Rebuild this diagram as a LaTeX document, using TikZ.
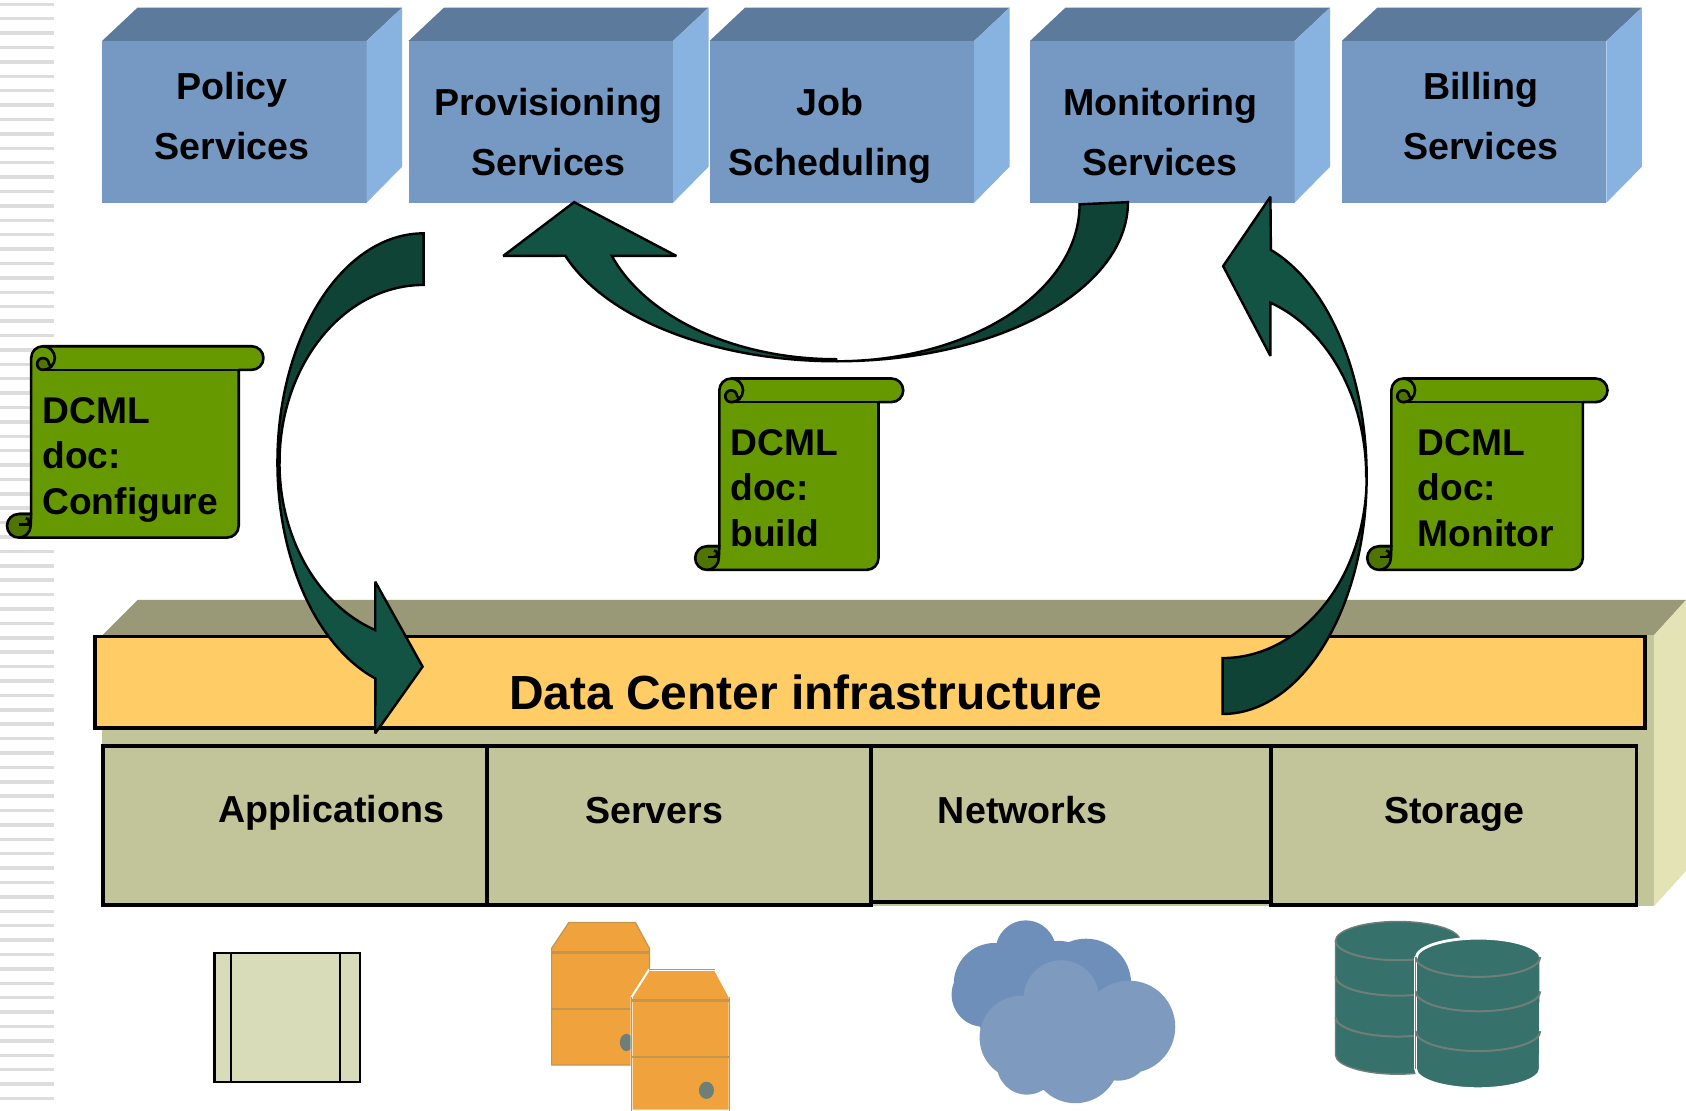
\documentclass[tikz,border=0pt]{standalone}
\usepackage{fontspec}
\setmainfont{Liberation Sans}
\definecolor{frontblue}{HTML}{7599C3}
\definecolor{topblue}{HTML}{5C7A9C}
\definecolor{sideblue}{HTML}{88B2E0}
\definecolor{stripegray}{HTML}{DDDDDD}
\definecolor{plinthtop}{HTML}{999977}
\definecolor{plinthfront}{HTML}{C2C49A}
\definecolor{plinthside}{HTML}{E3E3B5}
\definecolor{barorange}{HTML}{FFCC66}
\definecolor{arrowdark}{HTML}{0F4335}
\definecolor{arrowlight}{HTML}{135343}
\definecolor{scrollgreen}{HTML}{669900}
\definecolor{scrolldark}{HTML}{4D7500}
\definecolor{slab}{HTML}{D9DCB8}
\definecolor{serverorange}{HTML}{F0A23C}
\definecolor{serveredge}{HTML}{C39650}
\definecolor{clouddark}{HTML}{6D8FBA}
\definecolor{cloudlight}{HTML}{7F9ABF}
\definecolor{cylfill}{HTML}{37716B}
\definecolor{cylline}{HTML}{6F7F78}
\tikzset{
  label18/.style={font=\bfseries\fontsize{18.8}{30}\selectfont,align=center,text=black,inner sep=0pt},
  celltext/.style={font=\bfseries\fontsize{18.8}{22}\selectfont,text=black,inner sep=0pt},
  doctext/.style={font=\bfseries\fontsize{18.6}{22.8}\selectfont,align=left,anchor=west,text=black,inner sep=0pt},
  cellbox/.style={draw=black,line width=1.9pt,fill=plinthfront},
  blockarrow/.style={draw=black,line width=1.2pt,line join=miter,miter limit=3},
  scrollline/.style={draw=black,line width=1.3pt,line join=round},
}
\newcommand{\cubebox}[1]{%
  \fill[frontblue] (#1,38) rectangle ({#1+246},188.5);
  \fill[topblue] (#1,38) -- ({#1+33},7) -- ({#1+279},7) -- ({#1+246},38) -- cycle;
  \fill[sideblue] ({#1+246},38) -- ({#1+279},7) -- ({#1+279},155) -- ({#1+246},188.5) -- cycle;
}
\newcommand{\dcmlscroll}[3]{%
  \begin{scope}[shift={(#1,#2)}]
    \path[scrollline,fill=scrollgreen] (0,11) arc[start angle=180,end angle=270,radius=11]
      -- ({#3-11},0) arc[start angle=270,end angle=450,radius=11]
      -- ({#3-23},22) -- ({#3-23},167) arc[start angle=0,end angle=90,radius=11]
      -- (-11,178) -- (-11,156) -- (0,156) -- cycle;
    \draw[scrollline] (11,22) -- ({#3-23},22);
    \draw[scrollline] (11,0) arc[start angle=270,end angle=450,radius=11];
    \path[scrollline,fill=scrolldark] (11,22) arc[start angle=90,end angle=360,radius=5.5]
      -- (18.8,18.8) arc[start angle=45,end angle=90,radius=11];
    \path[scrollline,fill=scrolldark] (-11.5,156) arc[start angle=270,end angle=90,radius=11]
      arc[start angle=90,end angle=0,radius=11] -- (0,156) -- cycle;
    \draw[scrollline] (-11,166) -- (0,166);
    \draw[scrollline] (-5,160) .. controls (-1,160) and (-1,166) .. (-5,166);
  \end{scope}
}
\begin{document}
\begin{tikzpicture}[x=0.5376pt,y=-0.5376pt]
\useasboundingbox (0,0) rectangle (1568,1033);
\fill[white] (0,0) rectangle (1568,1033);
% side stripes
\foreach \i in {0,...,76} \fill[stripegray] (0,{2.4+13.39*\i}) rectangle (50,{5.6+13.39*\i});
% service cubes
\cubebox{95}
\cubebox{380}
\cubebox{660}
\cubebox{958}
\cubebox{1248}
\node[label18] (policy) at (216,107.5) {Policy\\Services};
\node[label18] (prov) at (510,122.5) {Provisioning\\Services};
\node[label18] (job) at (772,126) {Job\\Scheduling};
\node[label18] (monitor) at (1079,122.5) {Monitoring\\Services};
\node[label18] (billing) at (1377,107.5) {Billing\\Services};
% plinth
\fill[plinthtop] (95,591) -- (128,558) -- (1568,558) -- (1538,591) -- cycle;
\fill[plinthfront] (95,591) rectangle (1538,843);
\fill[plinthside] (1538,591) -- (1568,558) -- (1568,810) -- (1538,843) -- cycle;
\path[draw=black,line width=1.9pt,fill=barorange] (88,592) rectangle (1530,677);
\node[font=\bfseries\fontsize{23.95}{28}\selectfont,inner sep=0pt] (dc) at (749.5,644) {Data Center infrastructure};
% cells
\draw[cellbox] (810,694) rectangle (1182,839);
\draw[cellbox] (96,694) rectangle (453,842);
\draw[cellbox] (453,694) rectangle (810,842);
\draw[cellbox] (1182,694) rectangle (1522,842);
\node[celltext] (apps) at (308,756) {Applications};
\node[celltext] (servers) at (608.5,753.5) {Servers};
\node[celltext] (networks) at (951,753) {Networks};
\node[celltext] (storage) at (1352.5,757) {Storage};
% left arrow
\path[blockarrow,fill=arrowdark] (394,217) arc[start angle=270,end angle=180,x radius=136,y radius=213]
  -- (260,430) arc[start angle=180,end angle=270,x radius=134,y radius=165] -- cycle;
\path[blockarrow,fill=arrowlight] (258,430) arc[start angle=180,end angle=109.3,x radius=136,y radius=213]
  -- (349,682) -- (393,620) -- (349,541) -- (349,586)
  arc[start angle=109.6,end angle=180,x radius=134,y radius=165] -- cycle;
% top arrow
\path[blockarrow,fill=arrowdark] (1049,188) arc[start angle=0,end angle=90,x radius=271,y radius=148]
  arc[start angle=90,end angle=0,x radius=226,y radius=146] -- cycle;
\path[blockarrow,fill=arrowlight] (778,336) arc[start angle=90,end angle=160.3,x radius=268,y radius=148]
  -- (468,238) -- (534,188) -- (629,238) -- (569,238)
  arc[start angle=160,end angle=90,x radius=222,y radius=146] -- cycle;
% right arrow
\path[blockarrow,fill=arrowdark] (1137,664) arc[start angle=90,end angle=0,x radius=134,y radius=221]
  arc[start angle=0,end angle=90,x radius=134,y radius=169] -- cycle;
\path[blockarrow,fill=arrowlight] (1271,443) arc[start angle=0,end angle=-70.4,x radius=134,y radius=223.5]
  -- (1181.5,183) -- (1137.5,247.5) -- (1181.5,331) -- (1181.5,281.5)
  arc[start angle=-70.4,end angle=0,x radius=134,y radius=171.4] -- cycle;
% scrolls
\dcmlscroll{29}{322}{216}
\dcmlscroll{669}{352}{171}
\dcmlscroll{1294}{352}{201}
\node[doctext] (d1) at (39,427.5) {DCML\\doc:\\Configure};
\node[doctext] (d2) at (679,454) {DCML\\doc:\\build};
\node[doctext] (d3) at (1318,454) {DCML\\doc:\\Monitor};
% application icon
\path[draw=black,line width=1.1pt,fill=slab] (199.5,886.5) rectangle (334.5,1006);
\draw[black,line width=1.1pt] (215,886.5) -- (215,1006) (316.5,886.5) -- (316.5,1006);
% servers
\path[draw=serveredge,line width=0.6pt,fill=serverorange] (513,882) -- (529,858) -- (591,858) -- (604,882) -- (604,990.5) -- (513,990.5) -- cycle;
\draw[serveredge,line width=1.2pt] (513,886) -- (604,886) (513,938.5) -- (604,938.5);
\fill[cylline] (582.5,969.5) ellipse (6 and 8);
\path[draw=white,line width=1pt,fill=serverorange] (587.5,927) -- (603.5,902) -- (665,902) -- (678.5,927) -- (678.5,1033) -- (587.5,1033) -- cycle;
\draw[serveredge,line width=0.6pt] (587.5,927) -- (587.5,1033) (678.5,927) -- (678.5,1033) (603.5,902) -- (665,902);
\draw[serveredge,line width=1.2pt] (587.5,930.5) -- (678.5,930.5) (587.5,983) -- (678.5,983);
\fill[cylline] (657,1014) ellipse (7 and 8);
% clouds
\fill[clouddark] (954,884) circle (28) (1010,915) circle (42) (985,905) circle (30) (925,915) circle (38) (915,925) circle (30) (945,945) circle (35);
\fill[cloudlight] (987,928) circle (35) (950,965) circle (39) (1050,955) circle (43) (1000,985) circle (41) (955,990) circle (28) (1040,975) circle (30);
% cylinders
\path[draw=cylline,line width=0.7pt,fill=cylfill] (1242,875) -- (1242,981) arc[start angle=180,end angle=0,x radius=58,y radius=18]
  -- (1358,875) arc[start angle=0,end angle=-180,x radius=58,y radius=18] -- cycle;
\draw[cylline,line width=1pt] (1242,875) arc[start angle=180,end angle=0,x radius=58,y radius=18]
  (1242,908) arc[start angle=180,end angle=0,x radius=58,y radius=18]
  (1242,946) arc[start angle=180,end angle=0,x radius=58,y radius=18];
\path[draw=white,line width=1.4pt,fill=cylfill] (1316.5,891) -- (1316.5,994) arc[start angle=180,end angle=0,x radius=58,y radius=18.5]
  -- (1433,891) arc[start angle=0,end angle=-180,x radius=58,y radius=18.5] -- cycle;
\draw[cylline,line width=0.8pt] (1316.5,891) -- (1316.5,994);
\draw[cylline,line width=1pt] (1316.5,890) arc[start angle=180,end angle=0,x radius=58,y radius=18.5]
  (1316.5,922) arc[start angle=180,end angle=0,x radius=58,y radius=18.5]
  (1316.5,959) arc[start angle=180,end angle=0,x radius=58,y radius=18.5];
\end{tikzpicture}
\end{document}
